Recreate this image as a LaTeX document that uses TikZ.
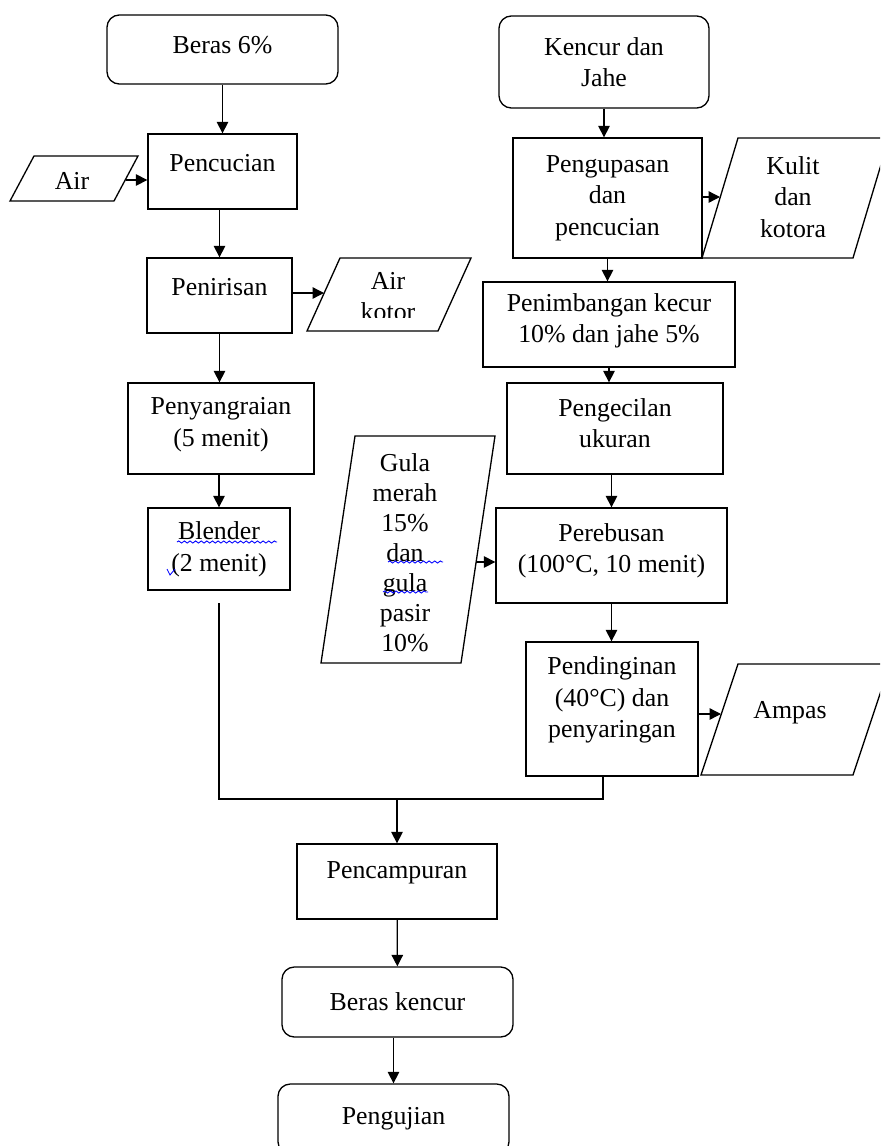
\documentclass[tikz,border=0pt]{standalone}
\usepackage{fontspec}
\setmainfont{Liberation Serif}
\usetikzlibrary{arrows.meta}
\usetikzlibrary{decorations.pathmorphing}
\tikzset{every picture/.style={/utils/exec={\fontsize{14.7pt}{18pt}\selectfont}}}
\tikzset{
  procbox/.style 2 args={draw, rectangle, line width=0.75pt, align=center, inner sep=0pt,
    minimum width=#1*0.02cm, minimum height=#2*0.02cm},
  termbox/.style 2 args={procbox={#1}{#2}, rounded corners=7pt},
  flow/.style={line width=0.75pt, -{Triangle[length=6.5pt,width=6.5pt]}},
  pipe/.style={line width=0.75pt},
  spell/.style={blue, line width=0.5pt, decorate, decoration={snake, amplitude=0.6pt, segment length=3.2pt}},
}
\newcommand\lowstrut[1]{\vrule width 0pt height 0pt depth #1}

\begin{document}
\begin{tikzpicture}[x=0.02cm, y=-0.02cm]
  \useasboundingbox (0,0) rectangle (880,1146);
  \clip (0,0) rectangle (880,1146);

  % beras side
  \node[termbox={231}{69}] (beras) at (222.5,49.5) {Beras 6\%\lowstrut{5.3pt}};
  \node[procbox={149}{75}] (cuci) at (222.5,171.5) {Pencucian\lowstrut{9.6pt}};
  \node[procbox={145}{75}] (tiris) at (219.5,295.5) {Penirisan\lowstrut{9.6pt}};
  \node[procbox={186}{91}] (sangrai) at (221,428.5) {Penyangraian\\(5 menit)\lowstrut{7.7pt}};
  \node[procbox={142}{82}] (blender) at (219,549) {Blender\\(2 menit)};

  % kencur dan jahe side
  \node[termbox={210}{92}] (kencur) at (604,62) {Kencur dan\\Jahe};
  \node[procbox={189}{120}] (kupas) at (607.5,198) {Pengupasan\\dan\\pencucian};
  \node[procbox={252}{85}] (timbang) at (609,324.5) {Penimbangan kecur\\10\% dan jahe 5\%\lowstrut{7.2pt}};
  \node[procbox={216}{91}] (kecil) at (615,428.5) {Pengecilan\\ukuran\lowstrut{6.2pt}};
  \node[procbox={231}{95}] (rebus) at (611.5,555.5) {Perebusan\\(100°C, 10 menit)\lowstrut{8.3pt}};
  \node[procbox={172}{134}] (dingin) at (612,709) {Pendinginan\\(40°C) dan\\penyaringan\lowstrut{13.4pt}};

  % bottom
  \node[procbox={200}{75}] (campur) at (397,881.5) {Pencampuran\lowstrut{12.8pt}};
  \node[termbox={231}{70}] (produk) at (397.5,1002) {Beras kencur};
  \node[termbox={231}{70}] (uji) at (393.5,1119) {Pengujian};

  % input / output parallelograms
  \foreach \bx/\ty/\by/\w/\s in {10/156/201/104/24, 307/258/331/131/33, 702/138/258/151/36, 321/436/663/140/34, 701/664/775/152/37}
    \draw[pipe] (\bx,\by) -- ++(\w,0) -- ++(\s,\ty-\by) -- ++(-\w,0) -- cycle;
  \node (air) at (72,181) {Air};
  \begin{scope}
    \clip (300,250) rectangle (480,317);
    \node[align=center] (kotor) at (388,296.5) {Air\\kotor};
  \end{scope}
  \node[align=center] (kulit) at (793,197) {Kulit\\dan\\kotora};
  \node[align=center, font=\fontsize{14.7pt}{17.1pt}\selectfont] (gula) at (405,552.5) {Gula\\merah\\15\%\\dan\\gula\\pasir\\10\%};
  \node (ampas) at (790,713) {Ampas};

  \coordinate (airR) at (126,180);
  \coordinate (kotorL) at (324,293);
  \coordinate (kulitL) at (720,197);
  \coordinate (gulaR) at (476,562);
  \coordinate (ampasL) at (721,714);
  \coordinate (mixL) at (219,603);
  \coordinate (mixR) at (603,776);
  \coordinate (join) at (397,799);

  % connectors
  \draw[flow] (beras) -- (cuci);
  \draw[flow] (airR) -- (airR -| cuci.west);
  \draw[flow] (tiris.north |- cuci.south) -- (tiris.north);
  \draw[flow] (tiris.east |- kotorL) -- (kotorL);
  \draw[flow] (tiris.south) -- (tiris.south |- sangrai.north);
  \draw[flow] (blender.north |- sangrai.south) -- (blender.north);
  \draw[flow] (kencur.south) -- (kencur.south |- kupas.north);
  \draw[flow] (kupas.east |- kulitL) -- (kulitL);
  \draw[flow] (kupas.south) -- (kupas.south |- timbang.north);
  \draw[flow] (timbang.south) -- (timbang.south |- kecil.north);
  \draw[flow] (rebus.north |- kecil.south) -- (rebus.north);
  \draw[flow] (rebus.south) -- (rebus.south |- dingin.north);
  \draw[flow] (gulaR) -- (gulaR -| rebus.west);
  \draw[flow] (dingin.east |- ampasL) -- (ampasL);
  \draw[pipe] (mixL) |- (join) -| (mixR);
  \draw[flow] (join) -- (campur);
  \draw[flow] (campur) -- (produk);
  \draw[flow] (uji.north |- produk.south) -- (uji.north);

  % spelling marks
  \draw[spell] (177,542) -- (277,542);
  \draw[blue, line width=0.5pt] (167,569) -- (170,575) -- (175,569);
  \draw[spell] (388,562) -- (443,562);
  \draw[spell] (383,592) -- (428,592);
\end{tikzpicture}
\end{document}
